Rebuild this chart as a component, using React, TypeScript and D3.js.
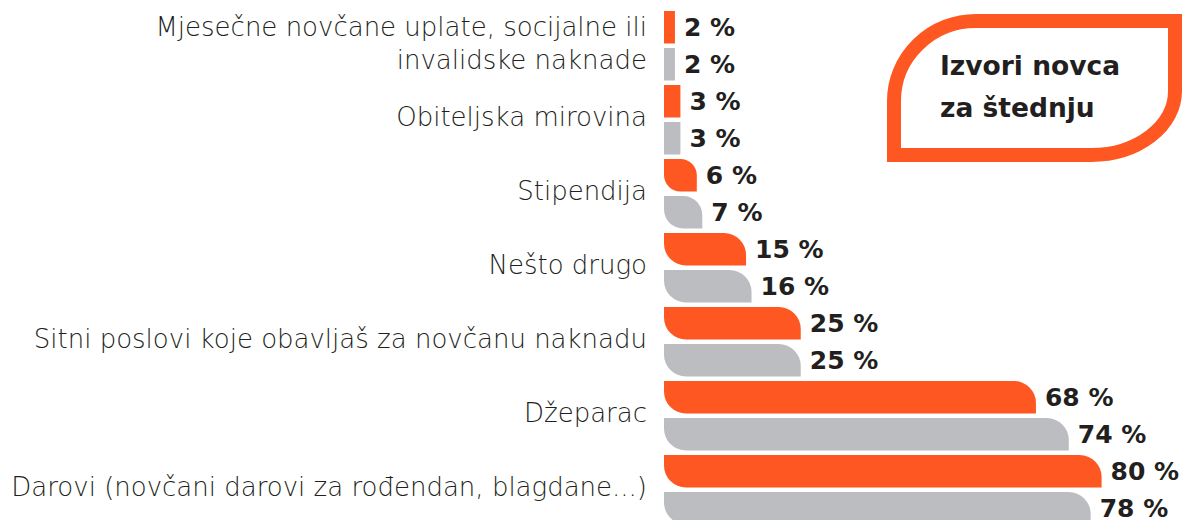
import React from "react";
import * as d3 from "d3";

const categories: string[][] = [
  ["Mjesečne novčane uplate, socijalne ili", "invalidske naknade"],
  ["Obiteljska mirovina"],
  ["Stipendija"],
  ["Nešto drugo"],
  ["Sitni poslovi koje obavljaš za novčanu naknadu"],
  ["Džeparac"],
  ["Darovi (novčani darovi za rođendan, blagdane...)"],
];
const seriesOrange: number[] = [2, 3, 6, 15, 25, 68, 80];
const seriesGray: number[] = [2, 3, 7, 16, 25, 74, 78];
const titleLines: string[] = ["Izvori novca", "za štednju"];

const W = 1185;
const H = 520;
const ORANGE = "#ff5722";
const GRAY = "#bcbdc0";
const TEXT = "#231f20";

function leafPath(x0: number, y0: number, w: number, h: number): string {
  const r = w < 20 ? 0 : Math.min(22, w / 2, h * 0.68);
  if (r === 0) return `M${x0},${y0}H${x0 + w}V${y0 + h}H${x0}Z`;
  const x1 = x0 + w;
  const y1 = y0 + h;
  return [
    `M${x0},${y0}`,
    `H${x1 - r}`,
    `A${r},${r} 0 0 1 ${x1},${y0 + r}`,
    `V${y1}`,
    `H${x0 + r}`,
    `A${r},${r} 0 0 1 ${x0},${y1 - r}`,
    `Z`,
  ].join(" ");
}

export default function App() {
  const keys = categories.map((_, i) => String(i));
  const x = d3.scaleLinear().domain([0, 100]).range([664, 1211]);
  const y = d3.scaleBand<string>().domain(keys).range([11, 11 + 74 * keys.length]);
  const sub = d3.scaleBand<string>().domain(["o", "g"]).range([0, 74]);
  const barH = 32.5;

  const series = [
    { key: "o", values: seriesOrange, color: ORANGE },
    { key: "g", values: seriesGray, color: GRAY },
  ];

  // title box geometry
  const bx0 = 894, by0 = 21, bx1 = 1175, by1 = 155;
  const boxPath = [
    `M${bx0},${by1}`,
    `V${by0 + 80}`,
    `A82,80 0 0 1 ${bx0 + 82},${by0}`,
    `H${bx1}`,
    `V${by1 - 64}`,
    `A84,64 0 0 1 ${bx1 - 84},${by1}`,
    `Z`,
  ].join(" ");

  return (
    <svg
      width={W}
      height={H}
      style={{ position: "absolute", left: 0, top: 0, background: "#fff" }}
    >
      <rect x={0} y={0} width={W} height={H} fill="#fff" />
      {series.map((s) =>
        s.values.map((v, i) => {
          const top = (y(keys[i]) as number) + (sub(s.key) as number);
          const w = x(v) - x(0);
          return (
            <g key={s.key + i}>
              <path d={leafPath(x(0), top, w, barH)} fill={s.color} />
              <text
                x={x(v) + 9}
                y={top + barH / 2}
                dy="0.36em"
                fontFamily="DejaVu Sans"
                fontWeight={700}
                fontSize={25}
                fill={TEXT}
              >
                {`${v} %`}
              </text>
            </g>
          );
        })
      )}
      {categories.map((lines, i) => {
        const cy = (y(keys[i]) as number) + (37 + barH) / 2 - 3;
        const lh = 33;
        return (
          <text
            key={"c" + i}
            textAnchor="end"
            fontFamily="DejaVu Sans"
            fontWeight={300}
            fontSize={26}
            fill={TEXT}
          >
            {lines.map((ln, j) => (
              <tspan
                key={j}
                x={647}
                y={cy + (j - (lines.length - 1) / 2) * lh}
                dy="0.36em"
              >
                {ln}
              </tspan>
            ))}
          </text>
        );
      })}
      <path d={boxPath} fill="none" stroke={ORANGE} strokeWidth={14} />
      <text fontFamily="DejaVu Sans" fontWeight={700} fontSize={26.5} fill={TEXT}>
        {titleLines.map((t, j) => (
          <tspan key={j} x={940} y={75 + j * 42}>
            {t}
          </tspan>
        ))}
      </text>
    </svg>
  );
}
